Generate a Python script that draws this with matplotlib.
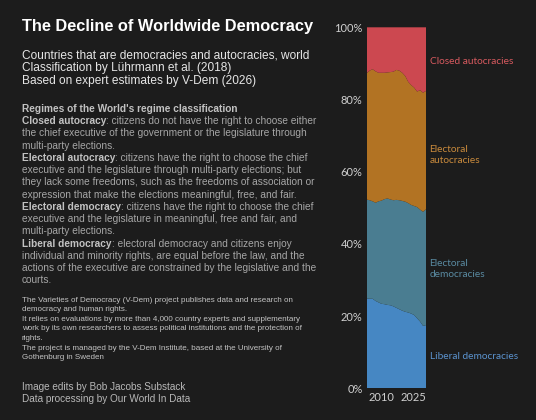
import matplotlib
matplotlib.use("Agg")
import matplotlib.pyplot as plt
from matplotlib.ticker import FuncFormatter

# share of countries (%) by regime type
years = list(range(2005, 2026))
liberal_dem = [24.9, 24.8, 24.8, 24.2, 23.8, 23.4, 23.3, 23.1, 23.0, 22.7, 22.3,
               21.9, 21.5, 21.2, 21.0, 20.7, 20.3, 19.4, 18.5, 17.3, 17.5]
electoral_dem = [27.4, 27.3, 27.0, 27.2, 28.0, 28.6, 29.1, 29.5, 29.3, 29.4, 29.9,
                 30.2, 30.4, 30.5, 30.3, 30.1, 30.2, 30.8, 31.0, 31.6, 32.1]
electoral_aut = [35.0, 35.9, 36.6, 36.4, 35.6, 35.4, 35.0, 34.9, 35.3, 35.6, 36.0,
                 35.9, 35.5, 34.8, 33.6, 33.2, 32.8, 32.0, 33.1, 33.0, 32.8]
closed_aut = [12.7, 12.0, 11.6, 12.2, 12.6, 12.6, 12.6, 12.5, 12.4, 12.3, 11.8,
              12.0, 12.6, 13.5, 15.1, 16.0, 16.7, 17.8, 17.4, 18.1, 17.6]

series_labels = ["Liberal democracies", "Electoral\ndemocracies",
                 "Electoral\nautocracies", "Closed autocracies"]
fill_colors = ["#4687c3", "#4a7d91", "#b27323", "#cc4850"]
label_colors = ["#5b93cf", "#5a8ba2", "#c98a3c", "#d85a5f"]
x_ticks = [2010, 2025]

bg = "#1c1c1c"
W, H = 536, 420
fig = plt.figure(figsize=(W / 100, H / 100), dpi=100, facecolor=bg)

ax = fig.add_axes([366.7 / W, 1 - 388.3 / H, 59.3 / W, 361 / H])
ax.set_facecolor(bg)
ax.stackplot(years, liberal_dem, electoral_dem, electoral_aut, closed_aut,
             colors=fill_colors, linewidth=0)
ax.set_xlim(years[0], years[-1])
ax.set_ylim(0, 100)
for s in ax.spines.values():
    s.set_visible(False)
ax.set_yticks([0, 20, 40, 60, 80, 100])
ax.yaxis.set_major_formatter(FuncFormatter(lambda v, p: f"{v:.0f}%"))
ax.set_xticks(x_ticks)
ax.set_xticklabels([str(t) for t in x_ticks])
ax.tick_params(length=0, colors="#d0d0d0", labelsize=8, pad=3)
for lab in ax.get_xticklabels() + ax.get_yticklabels():
    lab.set_fontfamily("Lato")
ax.get_xticklabels()[-1].set_ha("right")
ax.get_xticklabels()[-1].set_x(years[-1] + 0.6)

# labels to the right of the chart
label_y = [8.8, 33, 64.6, 90.4]
for text, col, yv in zip(series_labels, label_colors, label_y):
    ax.text(1.06, yv, text, transform=ax.get_yaxis_transform(), color=col,
            fontsize=7.3, family="Lato", va="center", ha="left", linespacing=1.2)

sans = "Liberation Sans"
renderer = fig.canvas.get_renderer()


def ft(x, y, s, **kw):
    return fig.text(x / W, 1 - y / H, s, family=sans, va="center", **kw)


def rich(x, y, bold, rest, size, c_bold, c_rest):
    t = ft(x, y, bold, fontsize=size, weight="bold", color=c_bold)
    w = t.get_window_extent(renderer).width
    ft(x + w, y, rest, fontsize=size, color=c_rest)


ft(22, 26, "The Decline of Worldwide Democracy", fontsize=11.8,
   weight="bold", color="white")
for i, line in enumerate(["Countries that are democracies and autocracies, world",
                          "Classification by Lührmann et al. (2018)",
                          "Based on expert estimates by V-Dem (2026)"]):
    ft(22, 55 + i * 13, line, fontsize=8.6, color="#e6e6e6")

gray = "#a6a6a6"
bgray = "#c2c2c2"
body = [
    ("Regimes of the World's regime classification", ""),
    ("Closed autocracy", ": citizens do not have the right to choose either"),
    ("", "the chief executive of the government or the legislature through"),
    ("", "multi-party elections."),
    ("Electoral autocracy", ": citizens have the right to choose the chief"),
    ("", "executive and the legislature through multi-party elections; but"),
    ("", "they lack some freedoms, such as the freedoms of association or"),
    ("", "expression that make the elections meaningful, free, and fair."),
    ("Electoral democracy", ": citizens have the right to choose the chief"),
    ("", "executive and the legislature in meaningful, free and fair, and"),
    ("", "multi-party elections."),
    ("Liberal democracy", ": electoral democracy and citizens enjoy"),
    ("", "individual and minority rights, are equal before the law, and the"),
    ("", "actions of the executive are constrained by the legislative and the"),
    ("", "courts."),
]
for i, (b, r) in enumerate(body):
    rich(22, 109 + i * 12.24, b, r, 7.3, bgray, gray)

small = [
    "The Varieties of Democracy (V-Dem) project publishes data and research on",
    "democracy and human rights.",
    "It relies on evaluations by more than 4,000 country experts and supplementary",
    "work by its own researchers to assess political institutions and the protection of",
    "rights.",
    "The project is managed by the V-Dem Institute, based at the University of",
    "Gothenburg in Sweden",
]
for i, line in enumerate(small):
    ft(22, 300 + i * 9.6, line, fontsize=5.8, color="#c4c4c4")

ft(22, 387, "Image edits by Bob Jacobs Substack", fontsize=7.2, color="#b8b8b8")
ft(22, 399.5, "Data processing by Our World In Data", fontsize=7.2, color="#b8b8b8")

fig.savefig("out.png", dpi=100, facecolor=bg)
